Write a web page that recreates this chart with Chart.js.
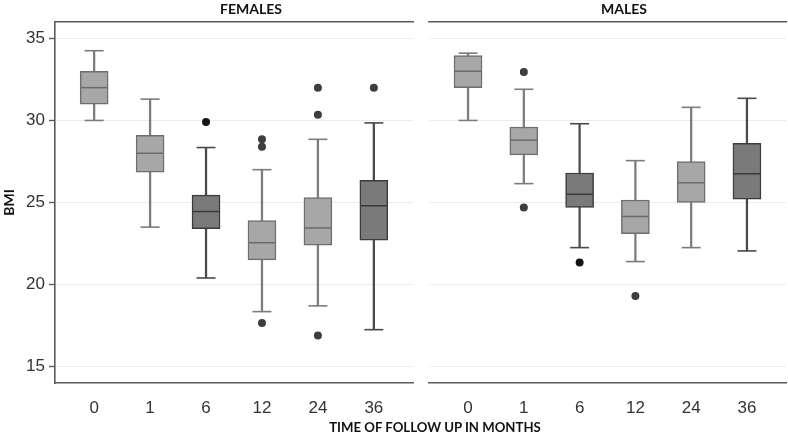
<!DOCTYPE html>
<html>
<head>
<meta charset="utf-8">
<script src="https://cdn.jsdelivr.net/npm/chart.js@4.4.1/dist/chart.umd.min.js"></script>
<style>
  body { margin: 0; background: #fff; }
  #wrap { position: relative; width: 788px; height: 435px; overflow: hidden; }
  canvas { position: absolute; top: 0; }
  .lbl { position: absolute; font-family: Lato, "Open Sans", sans-serif; font-weight: 700; color: #111; white-space: nowrap; transform: translateX(-50%); }
</style>
</head>
<body>
<div id="wrap">
  <canvas id="females" width="420" height="435" style="left:0"></canvas>
  <canvas id="males" width="368" height="435" style="left:420px"></canvas>
  <div class="lbl" style="left:251px; top:0px; font-size:14px;">FEMALES</div>
  <div class="lbl" style="left:624px; top:0px; font-size:14px;">MALES</div>
  <div class="lbl" style="left:435px; top:419px; font-size:13.2px;">TIME OF FOLLOW UP IN MONTHS</div>
</div>
<script>
// datos (BMI por mes de seguimiento)
const months = ['0', '1', '6', '12', '24', '36'];
const bmiTicks = [15, 20, 25, 30, 35];

const femLow  = [30.0, 23.5, 20.4, 18.35, 18.7, 17.25];
const femQ1   = [31.0, 26.85, 23.4, 21.5, 22.4, 22.7];
const femMed  = [32.0, 28.0, 24.45, 22.55, 23.45, 24.8];
const femQ3   = [33.0, 29.1, 25.45, 23.9, 25.3, 26.35];
const femHigh = [34.25, 31.3, 28.35, 27.0, 28.85, 29.85];
const femOut  = [[], [], [29.9], [28.85, 28.4, 17.65], [32.0, 30.35, 16.9], [32.0]];

const malLow  = [30.0, 26.15, 22.25, 21.4, 22.25, 22.05];
const malQ1   = [32.0, 27.9, 24.7, 23.1, 25.0, 25.2];
const malMed  = [33.0, 28.8, 25.5, 24.15, 26.2, 26.75];
const malQ3   = [33.95, 29.6, 26.8, 25.15, 27.5, 28.6];
const malHigh = [34.1, 31.9, 29.8, 27.55, 30.8, 31.35];
const malOut  = [[], [32.95, 24.7], [21.35], [19.3], [], []];

// estilos
const darkIdx = [2, 5];
const shade = (light, dark) => months.map((m, i) => darkIdx.includes(i) ? dark : light);
const axisColor = '#5a5a5a';

function boxPanel(id, low, q1, med, q3, high, outs, isLeft) {
    var ctx = document.getElementById(id).getContext('2d');
    var whiskers = months.map((m, i) => ({x: i, y: [low[i], high[i]]}));
    var boxes = months.map((m, i) => ({x: i, y: [q1[i], q3[i]]}));
    var caps = [];
    months.forEach((m, i) => { caps.push({x: i, y: low[i]}); caps.push({x: i, y: high[i]}); });
    var capColors = [];
    months.forEach((m, i) => { var c = darkIdx.includes(i) ? '#4a4a4a' : '#7c7c7c'; capColors.push(c, c); });
    var medians = months.map((m, i) => ({x: i, y: med[i]}));
    var outliers = [];
    var outColors = [];
    outs.forEach((list, i) => list.forEach(v => {
        outliers.push({x: i, y: v});
        outColors.push(i === 2 ? '#151515' : '#3e3e3e');
    }));

    // order: el numero menor se dibuja arriba
    var chart = new Chart(ctx, {
        type: 'bar',
        data: {
            datasets: [{
                data: whiskers,
                order: 5,
                grouped: false,
                barThickness: 1.6,
                backgroundColor: shade('#7c7c7c', '#4a4a4a'),
                borderWidth: 0
            }, {
                data: boxes,
                order: 4,
                grouped: false,
                barThickness: 28,
                backgroundColor: shade('#a7a7a7', '#7a7a7a'),
                borderColor: shade('#6e6e6e', '#3c3c3c'),
                borderWidth: 1.5,
                borderSkipped: false
            }, {
                type: 'scatter',
                data: caps,
                order: 3,
                pointStyle: 'line',
                pointRadius: 9.5,
                borderWidth: 1.6,
                pointBorderColor: capColors
            }, {
                type: 'scatter',
                data: medians,
                order: 2,
                pointStyle: 'line',
                pointRadius: 13.3,
                borderWidth: 1.5,
                pointBorderColor: shade('#6a6a6a', '#3a3a3a')
            }, {
                type: 'scatter',
                data: outliers,
                order: 1,
                pointStyle: 'circle',
                pointRadius: 4,
                borderWidth: 0,
                pointBackgroundColor: outColors
            }]
        },
        options: {
            responsive: false,
            animation: false,
            layout: {
                autoPadding: false,
                padding: { top: 22, bottom: 0, left: isLeft ? 0 : 9, right: isLeft ? 7 : 2 }
            },
            plugins: { legend: { display: false }, tooltip: { enabled: false } },
            scales: {
                x: {
                    type: 'linear', min: -0.7, max: 5.7, offset: false,
                    afterBuildTicks: s => { s.ticks = months.map((m, i) => ({value: i})); },
                    afterFit: s => { s.height = 52; },
                    ticks: {
                        callback: v => months[v],
                        color: '#333', padding: 7,
                        font: { family: 'Liberation Sans', size: 17 }
                    },
                    grid: { display: false },
                    border: { display: true, color: axisColor, width: 1.6 }
                },
                x2: {
                    type: 'linear', position: 'top', min: -0.7, max: 5.7, offset: false,
                    afterFit: s => { s.height = 0; },
                    ticks: { display: false },
                    grid: { display: false },
                    border: { display: true, color: axisColor, width: 1.6 }
                },
                y: {
                    min: 14, max: 36,
                    afterBuildTicks: s => { s.ticks = bmiTicks.map(v => ({value: v})); },
                    afterFit: s => { s.width = isLeft ? 55 : 0; },
                    ticks: {
                        display: isLeft,
                        color: '#333', padding: 4,
                        font: { family: 'Liberation Sans', size: 17 }
                    },
                    grid: {
                        color: '#ececec', lineWidth: 1,
                        drawTicks: isLeft, tickLength: 6, tickColor: axisColor, tickWidth: 1.4
                    },
                    border: { display: isLeft, color: axisColor, width: 1.6 },
                    title: {
                        display: isLeft, text: 'BMI', color: '#111', padding: 1,
                        font: { family: 'Lato', weight: 'bold', size: 14 }
                    }
                }
            }
        }
    });
    return chart;
}

boxPanel('females', femLow, femQ1, femMed, femQ3, femHigh, femOut, true);
boxPanel('males', malLow, malQ1, malMed, malQ3, malHigh, malOut, false);
</script>
</body>
</html>
